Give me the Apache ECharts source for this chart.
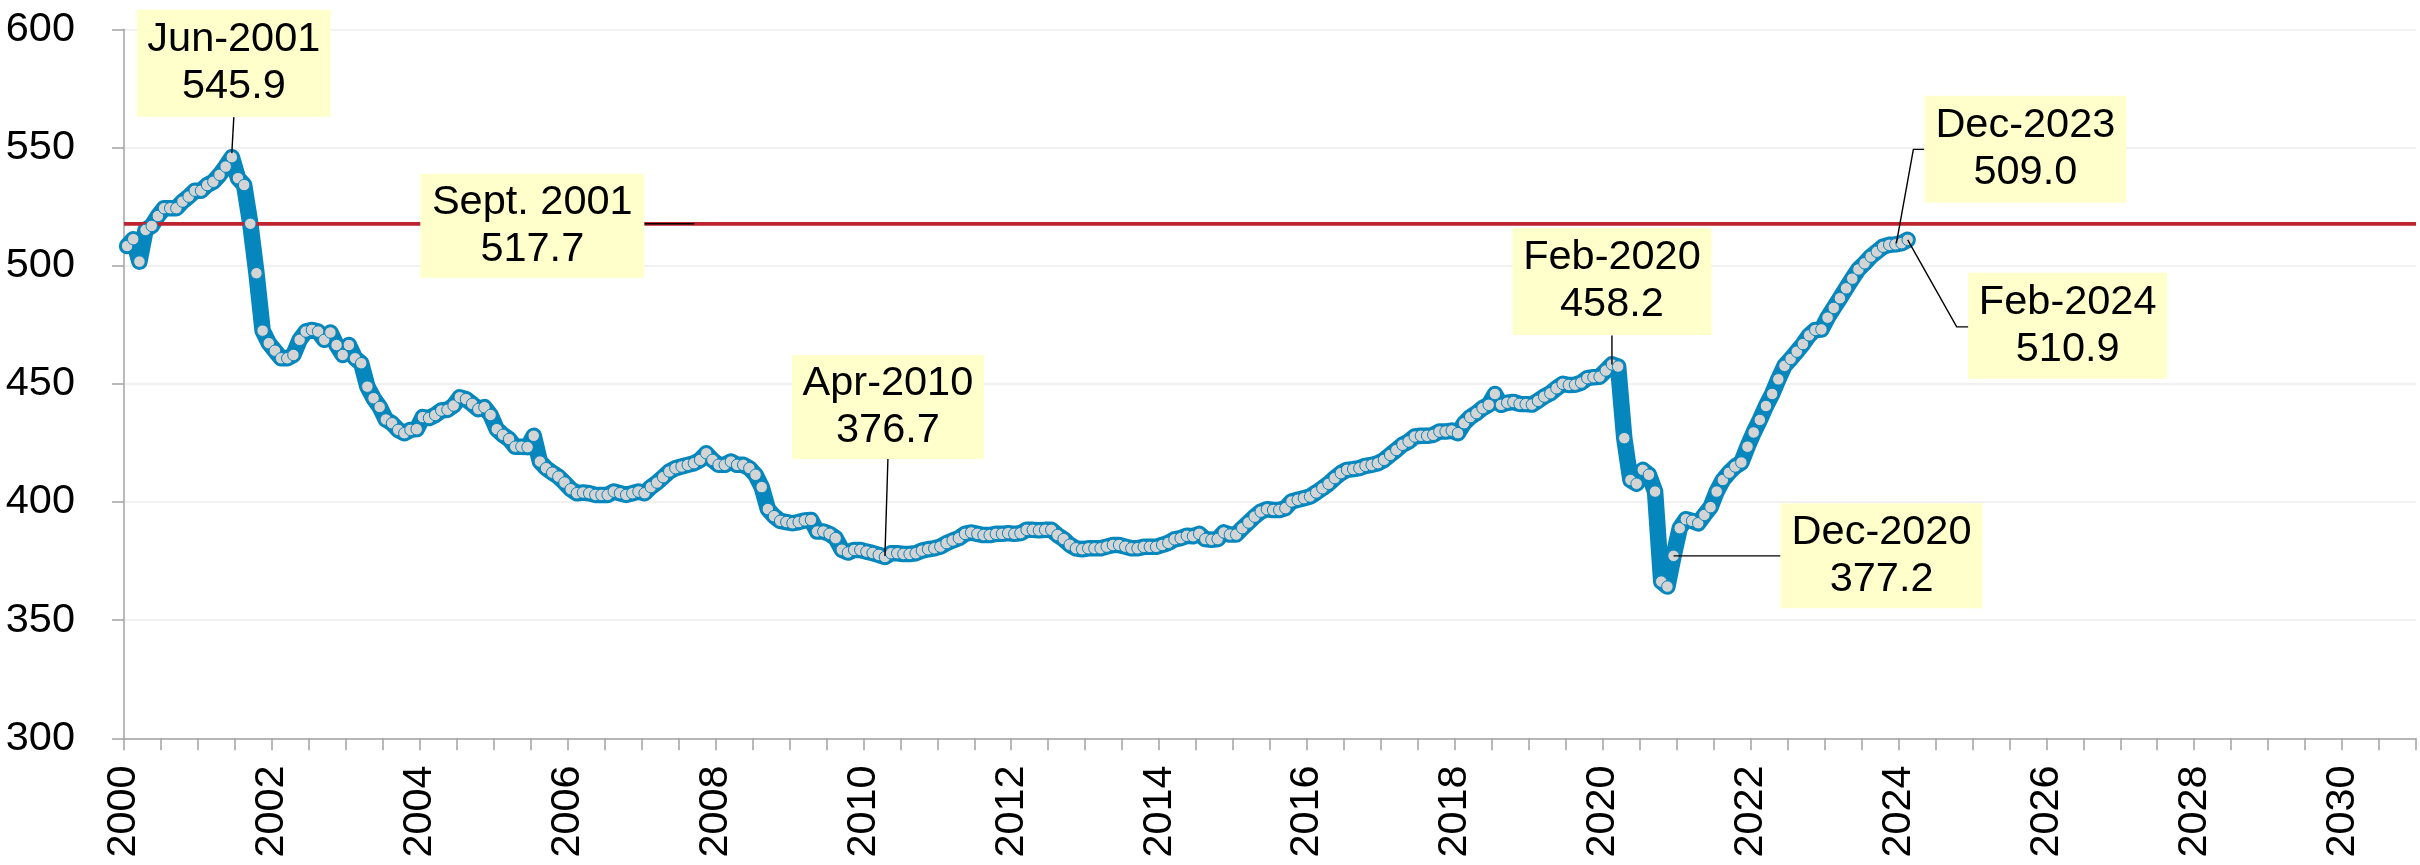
<!DOCTYPE html>
<html>
<head>
<meta charset="utf-8">
<title>Monthly level, 2000–2024</title>
<script src="https://cdn.jsdelivr.net/npm/echarts@6.0.0/dist/echarts.min.js"></script>
<style>
  html, body { margin: 0; padding: 0; background: #ffffff; }
  #chart { width: 2420px; height: 865px; }
</style>
</head>
<body>
<div id="chart"></div>
<script>
// Monthly values, January through December of each year.
const v2000 = [508.3, 511.2, 501.7, 515.1, 516.8, 521.0, 524.3, 524.3, 524.3, 527.1, 529.2, 531.7];
const v2001 = [531.7, 534.1, 535.5, 538.4, 541.9, 545.9, 537.0, 534.1, 517.7, 496.8, 472.5, 467.2];
const v2002 = [464.0, 460.8, 460.8, 462.2, 468.6, 472.1, 472.8, 472.1, 468.6, 471.7, 466.4, 462.2];
const v2003 = [466.4, 460.8, 458.7, 448.8, 443.9, 440.2, 434.9, 433.3, 430.5, 429.1, 430.5, 430.8];
const v2004 = [435.9, 435.5, 436.8, 438.7, 439.0, 440.8, 444.3, 443.5, 441.5, 439.3, 440.1, 436.8];
const v2005 = [430.8, 428.4, 426.6, 423.4, 423.4, 423.2, 428.0, 417.1, 414.3, 412.4, 410.7, 408.2];
const v2006 = [405.4, 403.7, 404.0, 403.7, 403.0, 403.0, 403.0, 404.4, 403.7, 403.0, 403.7, 404.4];
const v2007 = [403.7, 406.3, 408.2, 410.5, 412.9, 414.3, 415.0, 415.7, 416.4, 417.8, 420.6, 417.8];
const v2008 = [415.7, 415.7, 417.1, 415.7, 415.7, 414.3, 411.5, 406.3, 397.0, 394.0, 392.0, 391.5];
const v2009 = [391.0, 391.5, 392.2, 392.4, 387.5, 387.5, 386.5, 384.7, 379.8, 378.6, 379.7, 379.7];
const v2010 = [379.0, 378.4, 377.6, 376.7, 378.3, 378.3, 378.0, 378.0, 378.3, 379.4, 380.0, 380.4];
const v2011 = [381.1, 382.6, 383.7, 384.7, 386.5, 387.1, 386.5, 386.0, 386.0, 386.5, 386.5, 386.8];
const v2012 = [386.5, 386.8, 388.2, 388.2, 388.0, 388.2, 388.2, 386.0, 384.3, 381.9, 380.4, 380.0];
const v2013 = [380.4, 380.4, 380.4, 381.1, 381.8, 381.8, 381.1, 380.4, 380.4, 381.0, 381.0, 381.0];
const v2014 = [381.8, 382.7, 384.2, 384.7, 385.7, 385.5, 386.5, 384.3, 384.0, 384.3, 387.1, 386.2];
const v2015 = [386.2, 388.9, 391.3, 393.8, 395.9, 396.9, 396.6, 396.6, 397.4, 400.2, 400.9, 401.6];
const v2016 = [402.3, 404.0, 405.8, 407.7, 410.1, 412.2, 413.6, 413.9, 414.3, 415.3, 415.7, 416.4];
const v2017 = [417.8, 419.9, 422.0, 424.2, 425.6, 427.7, 428.0, 428.0, 428.4, 429.8, 429.8, 430.2];
const v2018 = [429.1, 433.3, 435.9, 437.6, 439.7, 441.1, 445.7, 441.1, 442.0, 442.3, 441.5, 441.4];
const v2019 = [441.2, 442.8, 444.6, 446.0, 448.1, 450.0, 449.5, 449.6, 450.5, 452.4, 452.8, 453.0];
const v2020 = [455.6, 458.2, 457.3, 427.0, 409.3, 407.7, 413.6, 411.5, 404.4, 366.3, 364.2, 377.2];
const v2021 = [388.9, 392.7, 392.0, 391.0, 394.5, 397.8, 404.4, 409.3, 412.4, 415.0, 416.7, 423.4];
const v2022 = [429.4, 434.7, 440.6, 445.7, 451.9, 457.6, 460.5, 463.6, 466.8, 470.5, 472.8, 473.0];
const v2023 = [478.0, 482.1, 486.2, 490.4, 494.5, 498.4, 501.0, 503.8, 505.9, 508.0, 508.8, 509.0];
const v2024 = [509.5, 510.9];

const firstYear = 2000;
const monthNames = ['Jan', 'Feb', 'Mar', 'Apr', 'May', 'Jun', 'Jul', 'Aug', 'Sep', 'Oct', 'Nov', 'Dec'];

// Axis ranges and tick steps
const yTicks = { min: 300, max: 600, step: 50 };
const xTicks = { min: 2000, max: 2031, step: 0.5, labelEvery: 2 };

const values = [v2000, v2001, v2002, v2003, v2004, v2005, v2006, v2007, v2008, v2009,
  v2010, v2011, v2012, v2013, v2014, v2015, v2016, v2017, v2018, v2019,
  v2020, v2021, v2022, v2023, v2024].flat();

// Each month is placed at its middle on the year scale.
const xOf = i => firstYear + (i + 0.5) / 12;
const points = values.map((v, i) => [xOf(i), v]);

// Reference level: the September 2001 value.
const levelIndex = 8 + 12;   // Sept. 2001
const levelValue = values[levelIndex];

const monthLabel = i => monthNames[i % 12] + '-' + (firstYear + Math.floor(i / 12));
const levelLabel = i => 'Sept. ' + (firstYear + Math.floor(i / 12));

// Callout layout: box centre offset + size, leader path (pixels, relative to the point).
const callouts = [
  { index: 17,  label: monthLabel, box: [2, -94, 194, 107],   leader: [[0, -4], [2, -40]] },
  { index: levelIndex, label: levelLabel, box: [282, 2, 224, 104], leader: [[394, 0], [444, 0]] },
  { index: 123, label: monthLabel, box: [3, -150, 192, 104],  leader: [[0, -1], [3, -98]] },
  { index: 241, label: monthLabel, box: [0, -83, 199, 107],   leader: [[0, 0], [0, -29]] },
  { index: 251, label: monthLabel, box: [208, 0, 202, 105],   leader: [[0, 0], [107, 0]] },
  { index: 287, label: monthLabel, box: [130, -95, 202, 107], leader: [[1, -1], [18, -95], [29, -95]] },
  { index: 289, label: monthLabel, box: [160, 86, 199, 106],  leader: [[0, 0], [49, 87], [61, 87]] }
];

const FONT = '"Liberation Sans", Arial, sans-serif';
const FONT_SIZE = 41.5;
const BLUE = '#0586BD';
const RED = '#BE2330';
const AXIS = '#A3A3A3';

const chart = echarts.init(document.getElementById('chart'), null, { renderer: 'canvas' });

chart.setOption({
  animation: false,
  backgroundColor: '#ffffff',
  grid: { left: 124, right: 4, top: 29.3, bottom: 126.7, containLabel: false, outerBoundsMode: 'none' },
  xAxis: {
    type: 'value',
    min: xTicks.min,
    max: xTicks.max,
    interval: xTicks.step,
    axisLine: { show: true, lineStyle: { color: AXIS, width: 1.5 } },
    axisTick: { show: true, inside: false, length: 12, lineStyle: { color: AXIS, width: 1.5 } },
    splitLine: { show: false },
    axisLabel: {
      rotate: 90,
      margin: 27,
      color: '#000',
      fontFamily: FONT,
      fontSize: FONT_SIZE,
      formatter: v => (v % xTicks.labelEvery === 0 ? String(v) : '')
    }
  },
  yAxis: {
    type: 'value',
    min: yTicks.min,
    max: yTicks.max,
    interval: yTicks.step,
    axisLine: { show: true, lineStyle: { color: AXIS, width: 1.5 } },
    axisTick: { show: true, inside: false, length: 12, lineStyle: { color: AXIS, width: 1.5 } },
    splitLine: { show: true, lineStyle: { color: '#EDEDED', width: 1.5 } },
    axisLabel: { margin: 49, color: '#000', fontFamily: FONT, fontSize: FONT_SIZE }
  },
  series: [
    {
      name: 'level',
      type: 'line',
      data: points,
      symbol: 'none',
      z: 2,
      lineStyle: { color: BLUE, width: 16.5, cap: 'round', join: 'round' }
    },
    {
      name: 'Sept. 2001',
      type: 'line',
      data: [[xTicks.min, levelValue], [xTicks.max, levelValue]],
      symbol: 'none',
      z: 3,
      lineStyle: { color: RED, width: 3.8 }
    },
    {
      name: 'markers',
      type: 'scatter',
      data: points,
      symbol: 'circle',
      symbolSize: 11.5,
      z: 4,
      itemStyle: { color: '#D4D4D4', borderColor: BLUE, borderWidth: 1, opacity: 1 }
    },
    {
      name: 'callouts',
      type: 'custom',
      z: 6,
      clip: false,
      data: callouts.map(c => [xOf(c.index), values[c.index]]),
      renderItem: (params, api) => {
        const c = callouts[params.dataIndex];
        const p = api.coord([api.value(0), api.value(1)]);
        const [bx, by, bw, bh] = c.box;
        const cx = p[0] + bx;
        const cy = p[1] + by;
        const text = c.label(c.index) + '\n' + values[c.index].toFixed(1);
        return {
          type: 'group',
          children: [
            {
              type: 'polyline',
              shape: { points: c.leader.map(([dx, dy]) => [p[0] + dx, p[1] + dy]) },
              style: { stroke: '#000', lineWidth: 1.4, fill: null }
            },
            {
              type: 'rect',
              shape: { x: cx - bw / 2, y: cy - bh / 2, width: bw, height: bh },
              style: { fill: '#FFFFCC' }
            },
            {
              type: 'text',
              x: cx,
              y: cy,
              style: {
                text: text,
                fill: '#000',
                fontFamily: FONT,
                fontSize: FONT_SIZE,
                lineHeight: 47,
                align: 'center',
                verticalAlign: 'middle'
              }
            }
          ]
        };
      }
    }
  ]
});
</script>
</body>
</html>
